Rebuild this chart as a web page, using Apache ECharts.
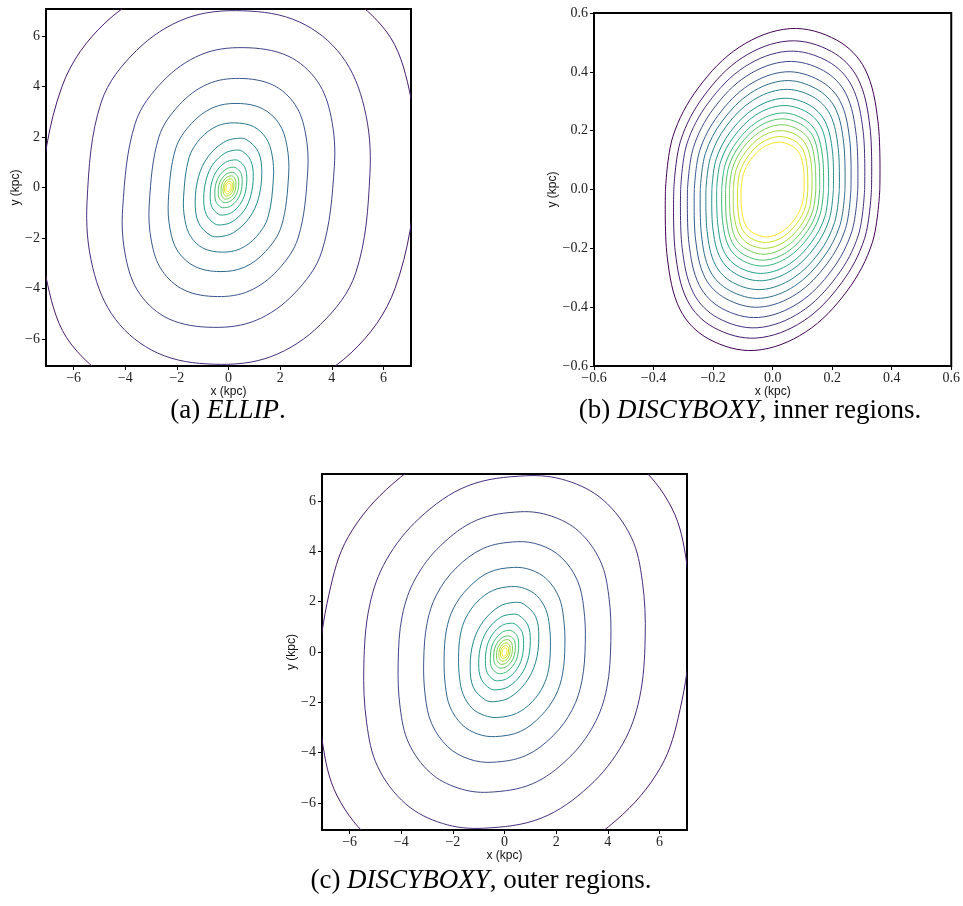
<!DOCTYPE html>
<html>
<head>
<meta charset="utf-8">
<title>Isophote contours</title>
<script src="https://cdn.jsdelivr.net/npm/echarts@6/dist/echarts.min.js"></script>
<style>
  html, body { margin: 0; padding: 0; background: #ffffff; }
  #chart { width: 963px; height: 906px; }
</style>
</head>
<body>
<div id="chart"></div>
<script>
// ---- tick positions and labels -------------------------------------------
const kpcTickValues = [-6, -4, -2, 0, 2, 4, 6];
const kpcTickLabels = ['\u22126', '\u22124', '\u22122', '0', '2', '4', '6'];
const innerTickValues = [-0.6, -0.4, -0.2, 0, 0.2, 0.4, 0.6];
const innerTickLabels = ['\u22120.6', '\u22120.4', '\u22120.2', '0.0', '0.2', '0.4', '0.6'];

// ---- contour line colours, outermost visible level first (viridis) --------
// inner-region panel: every level lies inside the frame
const innerLevelColors = ['#440154', '#481a6c', '#46337f', '#3f4889', '#375b8d', '#2e6e8e', '#277f8e',
  '#21918c', '#20a386', '#32b67a', '#4ac16d', '#73d056', '#a5db36', '#d0e11c', '#fde725'];
// wide panels: the lowest level falls outside the frame
const wideLevelColors = ['#481b6d', '#46307e', '#414487', '#39568c', '#31688e', '#2a788e', '#24878e',
  '#1f998a', '#22a884', '#3aba76', '#54c568', '#7ad151', '#a8db34', '#d2e21b', '#fde725'];

// ---- captions --------------------------------------------------------------
const captionPrefix = ['(a) ', '(b) ', '(c) '];
const captionModel = ['ELLIP', 'DISCYBOXY', 'DISCYBOXY'];
const captionTail = ['.', ', inner regions.', ', outer regions.'];

// ---- ELLIP isophotes (kpc), outermost first --------------------------------
const ellipContours = [
  [[7.30,0.68],[7.01,3.83],[6.10,6.20],[3.90,7.95],[0.73,8.50],[-2.19,8.08],[-4.75,6.55],[-6.45,4.00],[-7.30,-0.68],[-7.01,-3.83],[-6.10,-6.20],[-3.90,-7.95],[-0.73,-8.50],[2.19,-8.08],[4.75,-6.55],[6.45,-4.00]],
  [[5.48,0.56],[5.26,3.17],[4.38,5.22],[2.74,6.56],[0.55,7.00],[-1.64,6.70],[-3.56,5.43],[-4.93,3.38],[-5.48,-0.56],[-5.26,-3.17],[-4.38,-5.22],[-2.74,-6.56],[-0.55,-7.00],[1.64,-6.70],[3.56,-5.43],[4.93,-3.38]],
  [[4.10,0.83],[3.98,2.77],[3.44,4.21],[2.30,5.21],[0.57,5.54],[-1.07,5.26],[-2.54,4.21],[-3.61,2.55],[-4.10,-0.83],[-3.98,-2.77],[-3.44,-4.21],[-2.30,-5.21],[-0.57,-5.54],[1.07,-5.26],[2.54,-4.21],[3.61,-2.55]],
  [[3.07,0.65],[2.98,2.16],[2.58,3.28],[1.72,4.06],[0.43,4.32],[-0.80,4.10],[-1.90,3.28],[-2.70,1.99],[-3.07,-0.65],[-2.98,-2.16],[-2.58,-3.28],[-1.72,-4.06],[-0.43,-4.32],[0.80,-4.10],[1.90,-3.28],[2.70,-1.99]],
  [[2.33,0.50],[2.26,1.67],[1.96,2.53],[1.30,3.13],[0.33,3.33],[-0.61,3.16],[-1.44,2.53],[-2.05,1.53],[-2.33,-0.50],[-2.26,-1.67],[-1.96,-2.53],[-1.30,-3.13],[-0.33,-3.33],[0.61,-3.16],[1.44,-2.53],[2.05,-1.53]],
  [[1.74,0.38],[1.69,1.28],[1.46,1.95],[0.97,2.41],[0.24,2.56],[-0.45,2.43],[-1.08,1.95],[-1.53,1.18],[-1.74,-0.38],[-1.69,-1.28],[-1.46,-1.95],[-0.97,-2.41],[-0.24,-2.56],[0.45,-2.43],[1.08,-1.95],[1.53,-1.18]],
  [[1.29,0.59],[1.16,1.40],[0.71,1.89],[0.36,1.95],[-0.19,1.79],[-0.80,1.21],[-1.16,0.43],[-1.29,-0.59],[-1.16,-1.40],[-0.71,-1.89],[-0.36,-1.95],[0.19,-1.79],[0.80,-1.21],[1.16,-0.43]],
  [[0.96,0.44],[0.86,1.07],[0.53,1.44],[0.27,1.48],[-0.14,1.36],[-0.60,0.92],[-0.86,0.33],[-0.96,-0.44],[-0.86,-1.07],[-0.53,-1.44],[-0.27,-1.48],[0.14,-1.36],[0.60,-0.92],[0.86,-0.33]],
  [[0.71,0.33],[0.64,0.78],[0.39,1.06],[0.20,1.09],[-0.11,1.00],[-0.44,0.68],[-0.64,0.24],[-0.71,-0.33],[-0.64,-0.78],[-0.39,-1.06],[-0.20,-1.09],[0.11,-1.00],[0.44,-0.68],[0.64,-0.24]],
  [[0.53,0.24],[0.48,0.58],[0.29,0.78],[0.15,0.80],[-0.08,0.74],[-0.33,0.50],[-0.48,0.18],[-0.53,-0.24],[-0.48,-0.58],[-0.29,-0.78],[-0.15,-0.80],[0.08,-0.74],[0.33,-0.50],[0.48,-0.18]],
  [[0.40,0.18],[0.36,0.43],[0.22,0.58],[0.11,0.60],[-0.06,0.55],[-0.25,0.37],[-0.36,0.13],[-0.40,-0.18],[-0.36,-0.43],[-0.22,-0.58],[-0.11,-0.60],[0.06,-0.55],[0.25,-0.37],[0.36,-0.13]],
  [[0.29,0.14],[0.26,0.33],[0.16,0.45],[0.08,0.46],[-0.04,0.42],[-0.18,0.29],[-0.26,0.10],[-0.29,-0.14],[-0.26,-0.33],[-0.16,-0.45],[-0.08,-0.46],[0.04,-0.42],[0.18,-0.29],[0.26,-0.10]],
  [[0.21,0.10],[0.19,0.24],[0.12,0.33],[0.06,0.34],[-0.03,0.31],[-0.13,0.21],[-0.19,0.07],[-0.21,-0.10],[-0.19,-0.24],[-0.12,-0.33],[-0.06,-0.34],[0.03,-0.31],[0.13,-0.21],[0.19,-0.07]],
  [[0.15,0.08],[0.14,0.18],[0.08,0.24],[0.04,0.25],[-0.02,0.23],[-0.09,0.16],[-0.14,0.06],[-0.15,-0.08],[-0.14,-0.18],[-0.08,-0.24],[-0.04,-0.25],[0.02,-0.23],[0.09,-0.16],[0.14,-0.06]],
  [[0.10,0.05],[0.09,0.12],[0.06,0.16],[0.03,0.16],[-0.02,0.15],[-0.06,0.10],[-0.09,0.04],[-0.10,-0.05],[-0.09,-0.12],[-0.06,-0.16],[-0.03,-0.16],[0.02,-0.15],[0.06,-0.10],[0.09,-0.04]]
];

// ---- DISCYBOXY inner isophotes (kpc): loop from the left corner, over the top
//      to the right corner (index 8), then under the bottom back again --------
const innerCornerIndex = 8;
const innerContours = [
  [[-0.360,0],[-0.335,0.180],[-0.250,0.345],[-0.110,0.485],[0.060,0.547],[0.215,0.508],[0.310,0.410],[0.354,0.230],[0.360,0],[0.335,-0.180],[0.250,-0.345],[0.110,-0.485],[-0.060,-0.547],[-0.215,-0.508],[-0.310,-0.410],[-0.354,-0.230],[-0.360,0]],
  [[-0.332,0],[-0.309,0.166],[-0.231,0.318],[-0.102,0.448],[0.055,0.505],[0.198,0.469],[0.286,0.378],[0.327,0.212],[0.332,0],[0.309,-0.166],[0.231,-0.318],[0.102,-0.448],[-0.055,-0.505],[-0.198,-0.469],[-0.286,-0.378],[-0.327,-0.212],[-0.332,0]],
  [[-0.309,0],[-0.288,0.155],[-0.215,0.296],[-0.094,0.417],[0.052,0.470],[0.185,0.436],[0.266,0.352],[0.304,0.198],[0.309,0],[0.288,-0.155],[0.215,-0.296],[0.094,-0.417],[-0.052,-0.470],[-0.185,-0.436],[-0.266,-0.352],[-0.304,-0.198],[-0.309,0]],
  [[-0.286,0],[-0.266,0.143],[-0.199,0.274],[-0.087,0.386],[0.048,0.435],[0.171,0.404],[0.246,0.326],[0.281,0.183],[0.286,0],[0.266,-0.143],[0.199,-0.274],[0.087,-0.386],[-0.048,-0.435],[-0.171,-0.404],[-0.246,-0.326],[-0.281,-0.183],[-0.286,0]],
  [[-0.263,0],[-0.245,0.132],[-0.183,0.252],[-0.080,0.355],[0.044,0.400],[0.157,0.371],[0.227,0.300],[0.259,0.168],[0.263,0],[0.245,-0.132],[0.183,-0.252],[0.080,-0.355],[-0.044,-0.400],[-0.157,-0.371],[-0.227,-0.300],[-0.259,-0.168],[-0.263,0]],
  [[-0.243,0],[-0.226,0.122],[-0.169,0.233],[-0.074,0.328],[0.041,0.370],[0.145,0.343],[0.210,0.277],[0.239,0.155],[0.243,0],[0.226,-0.122],[0.169,-0.233],[0.074,-0.328],[-0.041,-0.370],[-0.145,-0.343],[-0.210,-0.277],[-0.239,-0.155],[-0.243,0]],
  [[-0.224,0],[-0.208,0.112],[-0.156,0.215],[-0.068,0.302],[0.037,0.340],[0.134,0.316],[0.193,0.255],[0.220,0.143],[0.224,0],[0.208,-0.112],[0.156,-0.215],[0.068,-0.302],[-0.037,-0.340],[-0.134,-0.316],[-0.193,-0.255],[-0.220,-0.143],[-0.224,0]],
  [[-0.204,0],[-0.190,0.102],[-0.142,0.196],[-0.062,0.275],[0.034,0.310],[0.122,0.288],[0.176,0.232],[0.201,0.130],[0.204,0],[0.190,-0.102],[0.142,-0.196],[0.062,-0.275],[-0.034,-0.310],[-0.122,-0.288],[-0.176,-0.232],[-0.201,-0.130],[-0.204,0]],
  [[-0.188,0],[-0.175,0.094],[-0.130,0.180],[-0.057,0.253],[0.031,0.285],[0.112,0.265],[0.162,0.214],[0.184,0.120],[0.188,0],[0.175,-0.094],[0.130,-0.180],[0.057,-0.253],[-0.031,-0.285],[-0.112,-0.265],[-0.162,-0.214],[-0.184,-0.120],[-0.188,0]],
  [[-0.171,0],[-0.159,0.086],[-0.119,0.164],[-0.052,0.230],[0.029,0.260],[0.102,0.241],[0.147,0.195],[0.168,0.109],[0.171,0],[0.159,-0.086],[0.119,-0.164],[0.052,-0.230],[-0.029,-0.260],[-0.102,-0.241],[-0.147,-0.195],[-0.168,-0.109],[-0.171,0]],
  [[-0.158,0],[-0.147,0.079],[-0.110,0.151],[-0.048,0.213],[0.026,0.240],[0.094,0.223],[0.136,0.180],[0.155,0.101],[0.158,0],[0.147,-0.079],[0.110,-0.151],[0.048,-0.213],[-0.026,-0.240],[-0.094,-0.223],[-0.136,-0.180],[-0.155,-0.101],[-0.158,0]],
  [[-0.145,0],[-0.135,0.072],[-0.101,0.139],[-0.044,0.195],[0.024,0.220],[0.086,0.204],[0.125,0.165],[0.142,0.092],[0.145,0],[0.135,-0.072],[0.101,-0.139],[0.044,-0.195],[-0.024,-0.220],[-0.086,-0.204],[-0.125,-0.165],[-0.142,-0.092],[-0.145,0]],
  [[-0.132,0],[-0.123,0.066],[-0.092,0.126],[-0.040,0.178],[0.022,0.200],[0.079,0.186],[0.113,0.150],[0.130,0.084],[0.132,0],[0.123,-0.066],[0.092,-0.126],[0.040,-0.178],[-0.022,-0.200],[-0.079,-0.186],[-0.113,-0.150],[-0.130,-0.084],[-0.132,0]],
  [[-0.118,0],[-0.110,0.059],[-0.082,0.114],[-0.036,0.160],[0.020,0.180],[0.071,0.167],[0.102,0.135],[0.116,0.076],[0.118,0],[0.110,-0.059],[0.082,-0.114],[0.036,-0.160],[-0.020,-0.180],[-0.071,-0.167],[-0.102,-0.135],[-0.116,-0.076],[-0.118,0]],
  [[-0.106,0],[-0.098,0.053],[-0.074,0.101],[-0.032,0.143],[0.018,0.161],[0.063,0.149],[0.091,0.121],[0.104,0.068],[0.106,0],[0.098,-0.053],[0.074,-0.101],[0.032,-0.143],[-0.018,-0.161],[-0.063,-0.149],[-0.091,-0.121],[-0.104,-0.068],[-0.106,0]]
];

// ---- DISCYBOXY outer isophotes (kpc), outermost first -----------------------
const outerContours = [
  [[7.20,0.70],[7.06,3.52],[6.48,5.72],[5.04,7.57],[3.17,8.54],[1.08,8.80],[-1.87,8.27],[-4.32,6.69],[-6.05,4.58],[-6.80,2.29],[-7.20,-0.70],[-7.06,-3.52],[-6.48,-5.72],[-5.04,-7.57],[-3.17,-8.54],[-1.08,-8.80],[1.87,-8.27],[4.32,-6.69],[6.05,-4.58],[6.80,-2.29]],
  [[5.45,0.56],[5.34,2.81],[4.91,4.56],[3.82,6.04],[2.40,6.81],[0.82,7.00],[-1.42,6.60],[-3.27,5.34],[-4.58,3.65],[-5.23,1.83],[-5.45,-0.56],[-5.34,-2.81],[-4.91,-4.56],[-3.82,-6.04],[-2.40,-6.81],[-0.82,-7.00],[1.42,-6.60],[3.27,-5.34],[4.58,-3.65],[5.23,-1.83]],
  [[4.12,0.45],[4.04,2.23],[3.71,3.62],[2.88,4.79],[1.81,5.40],[0.62,5.57],[-1.07,5.24],[-2.47,4.23],[-3.46,2.90],[-3.96,1.45],[-4.12,-0.45],[-4.04,-2.23],[-3.71,-3.62],[-2.88,-4.79],[-1.81,-5.40],[-0.62,-5.57],[1.07,-5.24],[2.47,-4.23],[3.46,-2.90],[3.96,-1.45]],
  [[3.13,0.35],[3.07,1.75],[2.82,2.85],[2.19,3.77],[1.38,4.25],[0.47,4.38],[-0.81,4.12],[-1.88,3.33],[-2.63,2.28],[-3.00,1.14],[-3.13,-0.35],[-3.07,-1.75],[-2.82,-2.85],[-2.19,-3.77],[-1.38,-4.25],[-0.47,-4.38],[0.81,-4.12],[1.88,-3.33],[2.63,-2.28],[3.00,-1.14]],
  [[2.34,0.27],[2.29,1.34],[2.11,2.18],[1.64,2.89],[1.03,3.26],[0.35,3.36],[-0.61,3.16],[-1.40,2.55],[-1.97,1.75],[-2.25,0.87],[-2.34,-0.27],[-2.29,-1.34],[-2.11,-2.18],[-1.64,-2.89],[-1.03,-3.26],[-0.35,-3.36],[0.61,-3.16],[1.40,-2.55],[1.97,-1.75],[2.25,-0.87]],
  [[1.78,0.21],[1.74,1.04],[1.60,1.69],[1.25,2.24],[0.78,2.52],[0.27,2.60],[-0.46,2.44],[-1.07,1.98],[-1.50,1.35],[-1.71,0.68],[-1.78,-0.21],[-1.74,-1.04],[-1.60,-1.69],[-1.25,-2.24],[-0.78,-2.52],[-0.27,-2.60],[0.46,-2.44],[1.07,-1.98],[1.50,-1.35],[1.71,-0.68]],
  [[1.33,0.59],[1.20,1.42],[0.73,1.91],[0.37,1.97],[-0.20,1.81],[-0.82,1.22],[-1.20,0.43],[-1.33,-0.59],[-1.20,-1.42],[-0.73,-1.91],[-0.37,-1.97],[0.20,-1.81],[0.82,-1.22],[1.20,-0.43]],
  [[1.00,0.45],[0.90,1.08],[0.55,1.46],[0.28,1.50],[-0.15,1.38],[-0.62,0.93],[-0.90,0.33],[-1.00,-0.45],[-0.90,-1.08],[-0.55,-1.46],[-0.28,-1.50],[0.15,-1.38],[0.62,-0.93],[0.90,-0.33]],
  [[0.74,0.34],[0.67,0.82],[0.41,1.11],[0.21,1.14],[-0.11,1.05],[-0.46,0.71],[-0.67,0.25],[-0.74,-0.34],[-0.67,-0.82],[-0.41,-1.11],[-0.21,-1.14],[0.11,-1.05],[0.46,-0.71],[0.67,-0.25]],
  [[0.55,0.26],[0.50,0.62],[0.30,0.83],[0.15,0.86],[-0.08,0.79],[-0.34,0.53],[-0.50,0.19],[-0.55,-0.26],[-0.50,-0.62],[-0.30,-0.83],[-0.15,-0.86],[0.08,-0.79],[0.34,-0.53],[0.50,-0.19]],
  [[0.42,0.19],[0.38,0.46],[0.23,0.62],[0.12,0.64],[-0.06,0.59],[-0.26,0.40],[-0.38,0.14],[-0.42,-0.19],[-0.38,-0.46],[-0.23,-0.62],[-0.12,-0.64],[0.06,-0.59],[0.26,-0.40],[0.38,-0.14]],
  [[0.31,0.15],[0.28,0.35],[0.17,0.48],[0.09,0.49],[-0.05,0.45],[-0.19,0.30],[-0.28,0.11],[-0.31,-0.15],[-0.28,-0.35],[-0.17,-0.48],[-0.09,-0.49],[0.05,-0.45],[0.19,-0.30],[0.28,-0.11]],
  [[0.22,0.11],[0.20,0.26],[0.12,0.35],[0.06,0.36],[-0.03,0.33],[-0.14,0.22],[-0.20,0.08],[-0.22,-0.11],[-0.20,-0.26],[-0.12,-0.35],[-0.06,-0.36],[0.03,-0.33],[0.14,-0.22],[0.20,-0.08]],
  [[0.16,0.08],[0.14,0.18],[0.09,0.24],[0.04,0.25],[-0.02,0.23],[-0.10,0.16],[-0.14,0.06],[-0.16,-0.08],[-0.14,-0.18],[-0.09,-0.24],[-0.04,-0.25],[0.02,-0.23],[0.10,-0.16],[0.14,-0.06]],
  [[0.10,0.05],[0.09,0.12],[0.06,0.16],[0.03,0.16],[-0.02,0.15],[-0.06,0.10],[-0.09,0.04],[-0.10,-0.05],[-0.09,-0.12],[-0.06,-0.16],[-0.03,-0.16],[0.02,-0.15],[0.06,-0.10],[0.09,-0.04]]
];

// ---- chart -------------------------------------------------------------------
const kpcExtent = [-7.07, 7.07];
const innerExtent = [-0.6, 0.6];

const chart = echarts.init(document.getElementById('chart'), null, { renderer: 'canvas' });

function tickFormatter(values, labels) {
  return function (v) {
    for (let i = 0; i < values.length; i++) {
      if (Math.abs(values[i] - v) < 1e-9) return labels[i];
    }
    return '';
  };
}

function valueAxis(dim, gridIndex, extent, values, labels, nameGap, labelMargin) {
  return {
    type: 'value',
    gridIndex: gridIndex,
    min: extent[0],
    max: extent[1],
    name: dim + ' (kpc)',
    nameLocation: 'middle',
    nameGap: nameGap,
    nameTextStyle: { fontFamily: 'Liberation Sans', fontSize: 12, color: '#111' },
    axisLine: { show: false, onZero: false },
    axisTick: {
      show: true, inside: false, length: 4, customValues: values,
      lineStyle: { color: '#000', width: 1 }
    },
    axisLabel: {
      show: true, customValues: values, margin: labelMargin,
      fontFamily: 'Liberation Serif', fontSize: 14, color: '#222',
      formatter: tickFormatter(values, labels)
    },
    splitLine: { show: false }
  };
}

// one closed isophote per data item; a corner index splits the loop into two
// separately smoothed halves so the corners stay sharp
function contourSeries(gridIndex, contours, colors, cornerIndex) {
  return {
    type: 'custom',
    coordinateSystem: 'cartesian2d',
    xAxisIndex: gridIndex,
    yAxisIndex: gridIndex,
    clip: true,
    silent: true,
    animation: false,
    data: contours.map(function (c) { return [c[0][0], c[0][1]]; }),
    renderItem: function (params, api) {
      const idx = params.dataIndex;
      const pts = contours[idx].map(function (p) { return api.coord(p); });
      const style = { fill: 'none', stroke: colors[idx], lineWidth: 1 };
      if (cornerIndex == null) {
        return { type: 'polygon', shape: { points: pts, smooth: 0.35 }, style: style };
      }
      return {
        type: 'group',
        children: [
          { type: 'polyline', shape: { points: pts.slice(0, cornerIndex + 1), smooth: 0.35 }, style: style },
          { type: 'polyline', shape: { points: pts.slice(cornerIndex), smooth: 0.35 }, style: style }
        ]
      };
    }
  };
}

const frame = { show: true, borderColor: '#000', borderWidth: 2, backgroundColor: 'transparent', containLabel: false };

const captionRich = {
  n: { fontFamily: 'Liberation Serif', fontSize: 27, color: '#000' },
  i: { fontFamily: 'Liberation Serif', fontSize: 27, fontStyle: 'italic', color: '#000' }
};
const captionPos = [[228, 411], [750, 411], [481, 881]];

const option = {
  backgroundColor: '#ffffff',
  animation: false,
  grid: [
    Object.assign({ left: 46, top: 9, width: 365, height: 357 }, frame),
    Object.assign({ left: 594, top: 13, width: 362, height: 353 }, frame),
    Object.assign({ left: 322, top: 474, width: 365, height: 356 }, frame)
  ],
  xAxis: [
    valueAxis('x', 0, kpcExtent, kpcTickValues, kpcTickLabels, 19, 5),
    valueAxis('x', 1, innerExtent, innerTickValues, innerTickLabels, 20, 5),
    valueAxis('x', 2, kpcExtent, kpcTickValues, kpcTickLabels, 20, 5)
  ],
  yAxis: [
    valueAxis('y', 0, kpcExtent, kpcTickValues, kpcTickLabels, 23, 6),
    valueAxis('y', 1, innerExtent, innerTickValues, innerTickLabels, 33, 6),
    valueAxis('y', 2, kpcExtent, kpcTickValues, kpcTickLabels, 23, 6)
  ],
  series: [
    contourSeries(0, ellipContours, wideLevelColors, null),
    contourSeries(1, innerContours, innerLevelColors, innerCornerIndex),
    contourSeries(2, outerContours, wideLevelColors, null)
  ],
  graphic: captionPos.map(function (pos, k) {
    return {
      type: 'text',
      x: pos[0],
      y: pos[1],
      silent: true,
      style: {
        text: '{n|' + captionPrefix[k] + '}{i|' + captionModel[k] + '}{n|' + captionTail[k] + '}',
        rich: captionRich,
        align: 'center',
        verticalAlign: 'middle',
        textAlign: 'center',
        textVerticalAlign: 'middle'
      }
    };
  })
};

chart.setOption(option);
</script>
</body>
</html>
